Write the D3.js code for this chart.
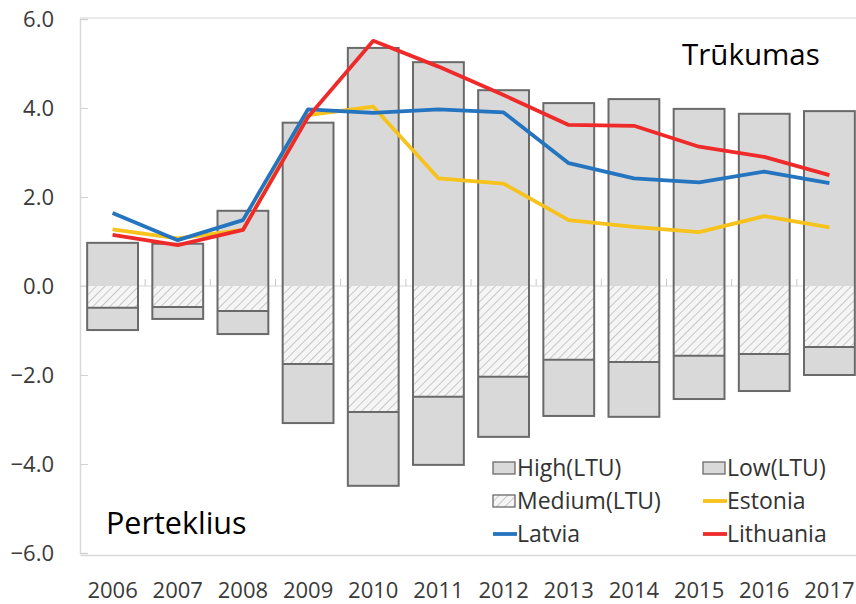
<!DOCTYPE html>
<html>
<head>
<meta charset="utf-8">
<script src="https://cdn.jsdelivr.net/npm/d3@7"></script>
<style>
  body { margin: 0; background: #fff; }
  svg { display: block; font-family: "Open Sans", sans-serif; }
</style>
</head>
<body>
<div id="chart"></div>
<script>
const years = ["2006", "2007", "2008", "2009", "2010", "2011", "2012", "2013", "2014", "2015", "2016", "2017"];
const high = [0.97, 0.95, 1.69, 3.67, 5.35, 5.03, 4.40, 4.11, 4.20, 3.98, 3.87, 3.93];
const medium = [-0.49, -0.47, -0.56, -1.75, -2.83, -2.49, -2.04, -1.66, -1.71, -1.57, -1.53, -1.37];
const low = [-0.50, -0.27, -0.52, -1.33, -1.66, -1.53, -1.35, -1.26, -1.23, -0.97, -0.83, -0.63];
const estonia = [1.27, 1.07, 1.26, 3.84, 4.03, 2.42, 2.30, 1.48, 1.33, 1.21, 1.57, 1.32];
const latvia = [1.64, 1.03, 1.48, 3.97, 3.89, 3.97, 3.90, 2.76, 2.42, 2.33, 2.57, 2.31];
const lithuania = [1.15, 0.92, 1.26, 3.80, 5.51, 4.93, 4.29, 3.62, 3.60, 3.13, 2.90, 2.49];
const yTicks = [-6, -4, -2, 0, 2, 4, 6];

const width = 856, height = 604;
const margin = {top: 19, right: 862, bottom: 553, left: 80};

const svg = d3.select("#chart")
    .append("svg")
    .attr("width", width)
    .attr("height", height);

const defs = svg.append("defs");
const hatch = defs.append("pattern")
    .attr("id", "hatch")
    .attr("patternUnits", "userSpaceOnUse")
    .attr("width", 6)
    .attr("height", 6)
    .attr("patternTransform", "rotate(45)");
hatch.append("rect").attr("width", 6).attr("height", 6).attr("fill", "#f5f5f5");
hatch.append("line")
    .attr("x1", 0).attr("y1", 0).attr("x2", 0).attr("y2", 6)
    .attr("stroke", "#c2c2c2").attr("stroke-width", 1.8);

const x = d3.scaleBand()
    .domain(years)
    .range([margin.left, margin.right])
    .paddingInner(0.22)
    .paddingOuter(0.11);

const y = d3.scaleLinear()
    .domain([-6, 6])
    .range([margin.bottom, margin.top]);

// frame
svg.append("line")
    .attr("x1", margin.left).attr("x2", width).attr("y1", margin.top - 1).attr("y2", margin.top - 1)
    .attr("stroke", "#e3e3e3").attr("stroke-width", 1.5);

svg.append("g")
    .attr("class", "axes")
    .attr("transform", `translate(${margin.left}, 0)`)
    .call(d3.axisLeft(y).tickValues(yTicks).tickSize(-8).tickPadding(26).tickFormat(d3.format(".1f")))
    .call(g => g.select(".domain").attr("stroke", "#d9d9d9").attr("stroke-width", 1.5))
    .call(g => g.selectAll(".tick line").attr("stroke", "#d0d0d0"))
    .call(g => g.selectAll(".tick text")
        .attr("fill", "#3a3a3a")
        .style("font-size", "22px")
        .style("font-family", "Open Sans"));

svg.append("g")
    .attr("class", "axes")
    .attr("transform", `translate(0, ${margin.bottom + 2})`)
    .call(d3.axisBottom(x).tickSize(0).tickPadding(27))
    .call(g => g.select(".domain").attr("stroke", "#d9d9d9").attr("stroke-width", 1.5))
    .call(g => g.selectAll(".tick text")
        .attr("fill", "#3a3a3a")
        .style("font-size", "22px")
        .style("font-family", "Open Sans"));

// zero line and small category ticks
svg.append("line")
    .attr("x1", margin.left).attr("x2", width).attr("y1", y(0)).attr("y2", y(0))
    .attr("stroke", "#d6d6d6").attr("stroke-width", 1);

svg.selectAll(".cat-tick")
    .data(years.slice(1))
    .enter()
    .append("line")
    .attr("class", "cat-tick")
    .attr("x1", function (d) { return x(d) - x.step() * x.paddingInner() / 2; })
    .attr("x2", function (d) { return x(d) - x.step() * x.paddingInner() / 2; })
    .attr("y1", y(0) - 7)
    .attr("y2", y(0))
    .attr("stroke", "#c8c8c8");

// bars
const rows = years.map(function (yr, i) {
    return {year: yr, high: high[i], mid: medium[i], low: medium[i] + low[i]};
});

const cols = svg.append("g").selectAll("g")
    .data(rows)
    .enter()
    .append("g");

cols.append("rect")
    .attr("x", function (d) { return x(d.year); })
    .attr("y", function (d) { return y(d.high); })
    .attr("width", x.bandwidth())
    .attr("height", function (d) { return y(0) - y(d.high); })
    .attr("fill", "#d9d9d9");

cols.append("rect")
    .attr("x", function (d) { return x(d.year); })
    .attr("y", y(0))
    .attr("width", x.bandwidth())
    .attr("height", function (d) { return y(d.mid) - y(0); })
    .attr("fill", "url(#hatch)");

cols.append("rect")
    .attr("x", function (d) { return x(d.year); })
    .attr("y", function (d) { return y(d.mid); })
    .attr("width", x.bandwidth())
    .attr("height", function (d) { return y(d.low) - y(d.mid); })
    .attr("fill", "#d9d9d9");

cols.append("rect")
    .attr("x", function (d) { return x(d.year); })
    .attr("y", function (d) { return y(d.high); })
    .attr("width", x.bandwidth())
    .attr("height", function (d) { return y(d.low) - y(d.high); })
    .attr("fill", "none")
    .attr("stroke", "#6a6a6a")
    .attr("stroke-width", 2);

cols.append("line")
    .attr("x1", function (d) { return x(d.year); })
    .attr("x2", function (d) { return x(d.year) + x.bandwidth(); })
    .attr("y1", function (d) { return y(d.mid); })
    .attr("y2", function (d) { return y(d.mid); })
    .attr("stroke", "#6a6a6a")
    .attr("stroke-width", 2);

// lines
const series = [
    {name: "Estonia", values: estonia, color: "#f7c21b"},
    {name: "Latvia", values: latvia, color: "#2474bf"},
    {name: "Lithuania", values: lithuania, color: "#ee2a2a"}
];

const line = d3.line()
    .x(function (d, i) { return x(years[i]) + x.bandwidth() / 2; })
    .y(function (d) { return y(d); });

svg.append("g").selectAll("path")
    .data(series)
    .enter()
    .append("path")
    .attr("d", function (d) { return line(d.values); })
    .attr("fill", "none")
    .attr("stroke", function (d) { return d.color; })
    .attr("stroke-width", 3.8)
    .attr("stroke-linejoin", "round");

// legend
const legendItems = [
    {label: "High(LTU)", type: "bar", fill: "#d9d9d9", x: 493, y: 468},
    {label: "Low(LTU)", type: "bar", fill: "#d9d9d9", x: 703, y: 468},
    {label: "Medium(LTU)", type: "bar", fill: "url(#hatch)", x: 493, y: 501},
    {label: "Estonia", type: "line", color: "#f7c21b", x: 703, y: 501},
    {label: "Latvia", type: "line", color: "#2474bf", x: 493, y: 534},
    {label: "Lithuania", type: "line", color: "#ee2a2a", x: 703, y: 534}
];

const legend = svg.append("g").selectAll("g")
    .data(legendItems)
    .enter()
    .append("g")
    .attr("transform", function (d) { return `translate(${d.x}, ${d.y})`; });

legend.filter(function (d) { return d.type === "bar"; })
    .append("rect")
    .attr("x", 0).attr("y", -6).attr("width", 22).attr("height", 12)
    .attr("fill", function (d) { return d.fill; })
    .attr("stroke", "#6a6a6a")
    .attr("stroke-width", 1.3);

legend.filter(function (d) { return d.type === "line"; })
    .append("line")
    .attr("x1", 0).attr("x2", 24).attr("y1", 0).attr("y2", 0)
    .attr("stroke", function (d) { return d.color; })
    .attr("stroke-width", 3.8);

legend.append("text")
    .attr("x", 24)
    .attr("y", 8)
    .attr("fill", "#333")
    .style("font-size", "23px")
    .text(function (d) { return d.label; });

// annotations
svg.append("text")
    .attr("x", 682).attr("y", 65)
    .attr("fill", "#000")
    .style("font-size", "29.5px")
    .text("Trūkumas");

svg.append("text")
    .attr("x", 106).attr("y", 534)
    .attr("fill", "#000")
    .style("font-size", "30.5px")
    .text("Perteklius");
</script>
</body>
</html>
